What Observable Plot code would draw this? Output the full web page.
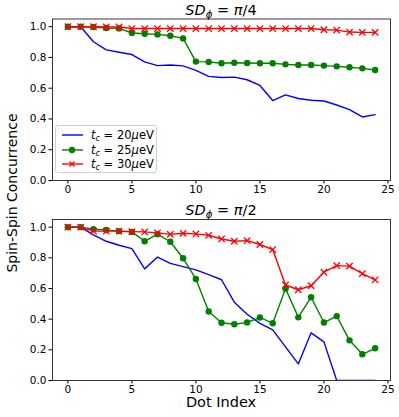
<!DOCTYPE html>
<html>
<head>
<meta charset="utf-8">
<script src="https://cdn.jsdelivr.net/npm/d3@7"></script>
<script src="https://cdn.jsdelivr.net/npm/@observablehq/plot@0.6"></script>
<style>
  html, body { margin: 0; padding: 0; background: #fff; }
  #wrap { position: relative; width: 399px; height: 417px; font-family: "DejaVu Sans", sans-serif; color: #000; overflow: hidden; }
  .panel { position: absolute; left: 0; }
  .title { position: absolute; left: 52px; width: 338px; text-align: center; font-size: 14.5px; line-height: 1; white-space: nowrap; }
  .title sub { font-size: 0.7em; vertical-align: -0.3em; line-height: 0; }
  .ylab { position: absolute; left: 12px; top: 193px; transform: translate(-50%, -50%) rotate(-90deg); font-size: 14px; white-space: nowrap; }
  .xlab { position: absolute; left: 52px; width: 338px; top: 394px; text-align: center; font-size: 14.5px; white-space: nowrap; }
  .legend { position: absolute; left: 55px; top: 125px; width: 102px; height: 48px; box-sizing: border-box; border: 1px solid #d0d0d0; border-radius: 3px; background: rgba(255,255,255,0.85); }
  .legend .row { position: absolute; left: 0; height: 14px; width: 100%; }
  .legend svg { position: absolute; left: 5px; top: 0; }
  .legend .lt { position: absolute; left: 35px; top: 0; font-size: 11.5px; line-height: 14px; white-space: nowrap; }
  .legend sub { font-size: 0.7em; vertical-align: -0.3em; line-height: 0; }
</style>
</head>
<body>
<div id="wrap"></div>
<script>
// ---- data ----
const dotIndex = [0,1,2,3,4,5,6,7,8,9,10,11,12,13,14,15,16,17,18,19,20,21,22,23,24];
const seriesNames = ["tc20", "tc25", "tc30"];
const seriesLabels = ["20", "25", "30"];
const seriesColors = ["#0000ff", "#008000", "#ff0000"];

// SD_phi = pi/4
const top20 = [1.0,1.0,0.902,0.849,0.834,0.819,0.771,0.747,0.751,0.745,0.716,0.677,0.670,0.672,0.655,0.618,0.520,0.557,0.533,0.522,0.517,0.491,0.461,0.413,0.428];
const top25 = [1.0,1.0,0.998,0.991,0.989,0.959,0.954,0.950,0.941,0.924,0.773,0.771,0.762,0.766,0.764,0.762,0.762,0.755,0.751,0.751,0.747,0.742,0.736,0.729,0.718];
const top30 = [1.0,1.0,1.0,0.998,0.998,0.988,0.988,0.988,0.988,0.988,0.988,0.988,0.988,0.988,0.988,0.988,0.988,0.988,0.988,0.988,0.980,0.978,0.965,0.963,0.963];

// SD_phi = pi/2
const bot20 = [1.0,1.0,0.950,0.908,0.882,0.860,0.728,0.805,0.764,0.743,0.721,0.690,0.657,0.511,0.432,0.373,0.330,0.219,0.108,0.311,0.252,0.0,0.0,0.0,0.0];
const bot25 = [1.0,1.0,0.987,0.982,0.974,0.969,0.908,0.954,0.905,0.797,0.662,0.450,0.377,0.367,0.379,0.411,0.373,0.599,0.412,0.543,0.378,0.420,0.262,0.171,0.210];
const bot30 = [1.0,1.0,0.974,0.974,0.974,0.971,0.969,0.963,0.953,0.960,0.956,0.947,0.923,0.908,0.912,0.887,0.854,0.623,0.592,0.618,0.706,0.749,0.746,0.697,0.656];

const yTicks = [0, 0.2, 0.4, 0.6, 0.8, 1.0];
const xTicks = [0, 5, 10, 15, 20, 25];

function rows(arrs) {
  const out = [];
  arrs.forEach((arr, k) => arr.forEach((v, i) => out.push({x: dotIndex[i], y: v, s: seriesNames[k]})));
  return out;
}

function panel(arrs, marginTop, marginBottom) {
  const data = rows(arrs);
  const color = {domain: seriesNames, range: seriesColors};
  return Plot.plot({
    width: 399,
    height: 200,
    marginLeft: 52,
    marginRight: 9,
    marginTop: marginTop,
    marginBottom: marginBottom,
    style: {fontFamily: "DejaVu Sans, sans-serif", fontSize: "10.5px", color: "#000", background: "transparent", overflow: "visible"},
    x: {domain: [-1.2, 25.2]},
    y: {domain: [0, 1.05]},
    color: color,
    marks: [
      Plot.line(data.filter(d => d.s === "tc20"), {x: "x", y: "y", stroke: seriesColors[0], strokeWidth: 1.4, clip: true}),
      Plot.line(data.filter(d => d.s === "tc25"), {x: "x", y: "y", stroke: seriesColors[1], strokeWidth: 1.4}),
      Plot.dot(data.filter(d => d.s === "tc25"), {x: "x", y: "y", fill: seriesColors[1], r: 3.2}),
      Plot.line(data.filter(d => d.s === "tc30"), {x: "x", y: "y", stroke: seriesColors[2], strokeWidth: 1.4}),
      Plot.dot(data.filter(d => d.s === "tc30"), {x: "x", y: "y", stroke: seriesColors[2], symbol: "times", r: 3, strokeWidth: 1.3}),
      Plot.axisY({ticks: yTicks, tickFormat: d => d.toFixed(1), tickSize: 3.5, tickPadding: 2.5, label: null, stroke: "#000"}),
      Plot.axisX({ticks: xTicks, tickFormat: d => String(d), tickSize: 3.5, tickPadding: 2, label: null, stroke: "#000"}),
      Plot.frame({stroke: "#222", strokeWidth: 0.9})
    ]
  });
}

const wrap = document.getElementById("wrap");

const p1 = panel([top20, top25, top30], 18.5, 20);
p1.classList.add("panel"); p1.style.top = "0px";
wrap.appendChild(p1);

const p2 = panel([bot20, bot25, bot30], 19, 20);
p2.classList.add("panel"); p2.style.top = "200px";
wrap.appendChild(p2);

// titles
const t1 = document.createElement("div");
t1.className = "title"; t1.style.top = "3px";
t1.innerHTML = "<i>SD</i><sub><i>ϕ</i></sub> = <i>π</i>/4";
wrap.appendChild(t1);
const t2 = document.createElement("div");
t2.className = "title"; t2.style.top = "203px";
t2.innerHTML = "<i>SD</i><sub><i>ϕ</i></sub> = <i>π</i>/2";
wrap.appendChild(t2);

// axis labels
const yl = document.createElement("div");
yl.className = "ylab"; yl.textContent = "Spin-Spin Concurrence";
wrap.appendChild(yl);
const xl = document.createElement("div");
xl.className = "xlab"; xl.textContent = "Dot Index";
wrap.appendChild(xl);

// legend
const lg = document.createElement("div");
lg.className = "legend";
seriesNames.forEach((s, k) => {
  const row = document.createElement("div");
  row.className = "row";
  row.style.top = (2 + k * 14.5) + "px";
  let marker = "";
  if (k === 1) marker = `<circle cx="11" cy="7" r="3.2" fill="${seriesColors[k]}"/>`;
  if (k === 2) marker = `<path d="M8.5,4.5L13.5,9.5M8.5,9.5L13.5,4.5" stroke="${seriesColors[k]}" stroke-width="1.3"/>`;
  row.innerHTML = `<svg width="24" height="14"><line x1="1" y1="7" x2="22" y2="7" stroke="${seriesColors[k]}" stroke-width="1.4"/>${marker}</svg>` +
    `<span class="lt"><i>t</i><sub><i>c</i></sub> = ${seriesLabels[k]}<i>μ</i>eV</span>`;
  lg.appendChild(row);
});
wrap.appendChild(lg);
</script>
</body>
</html>
